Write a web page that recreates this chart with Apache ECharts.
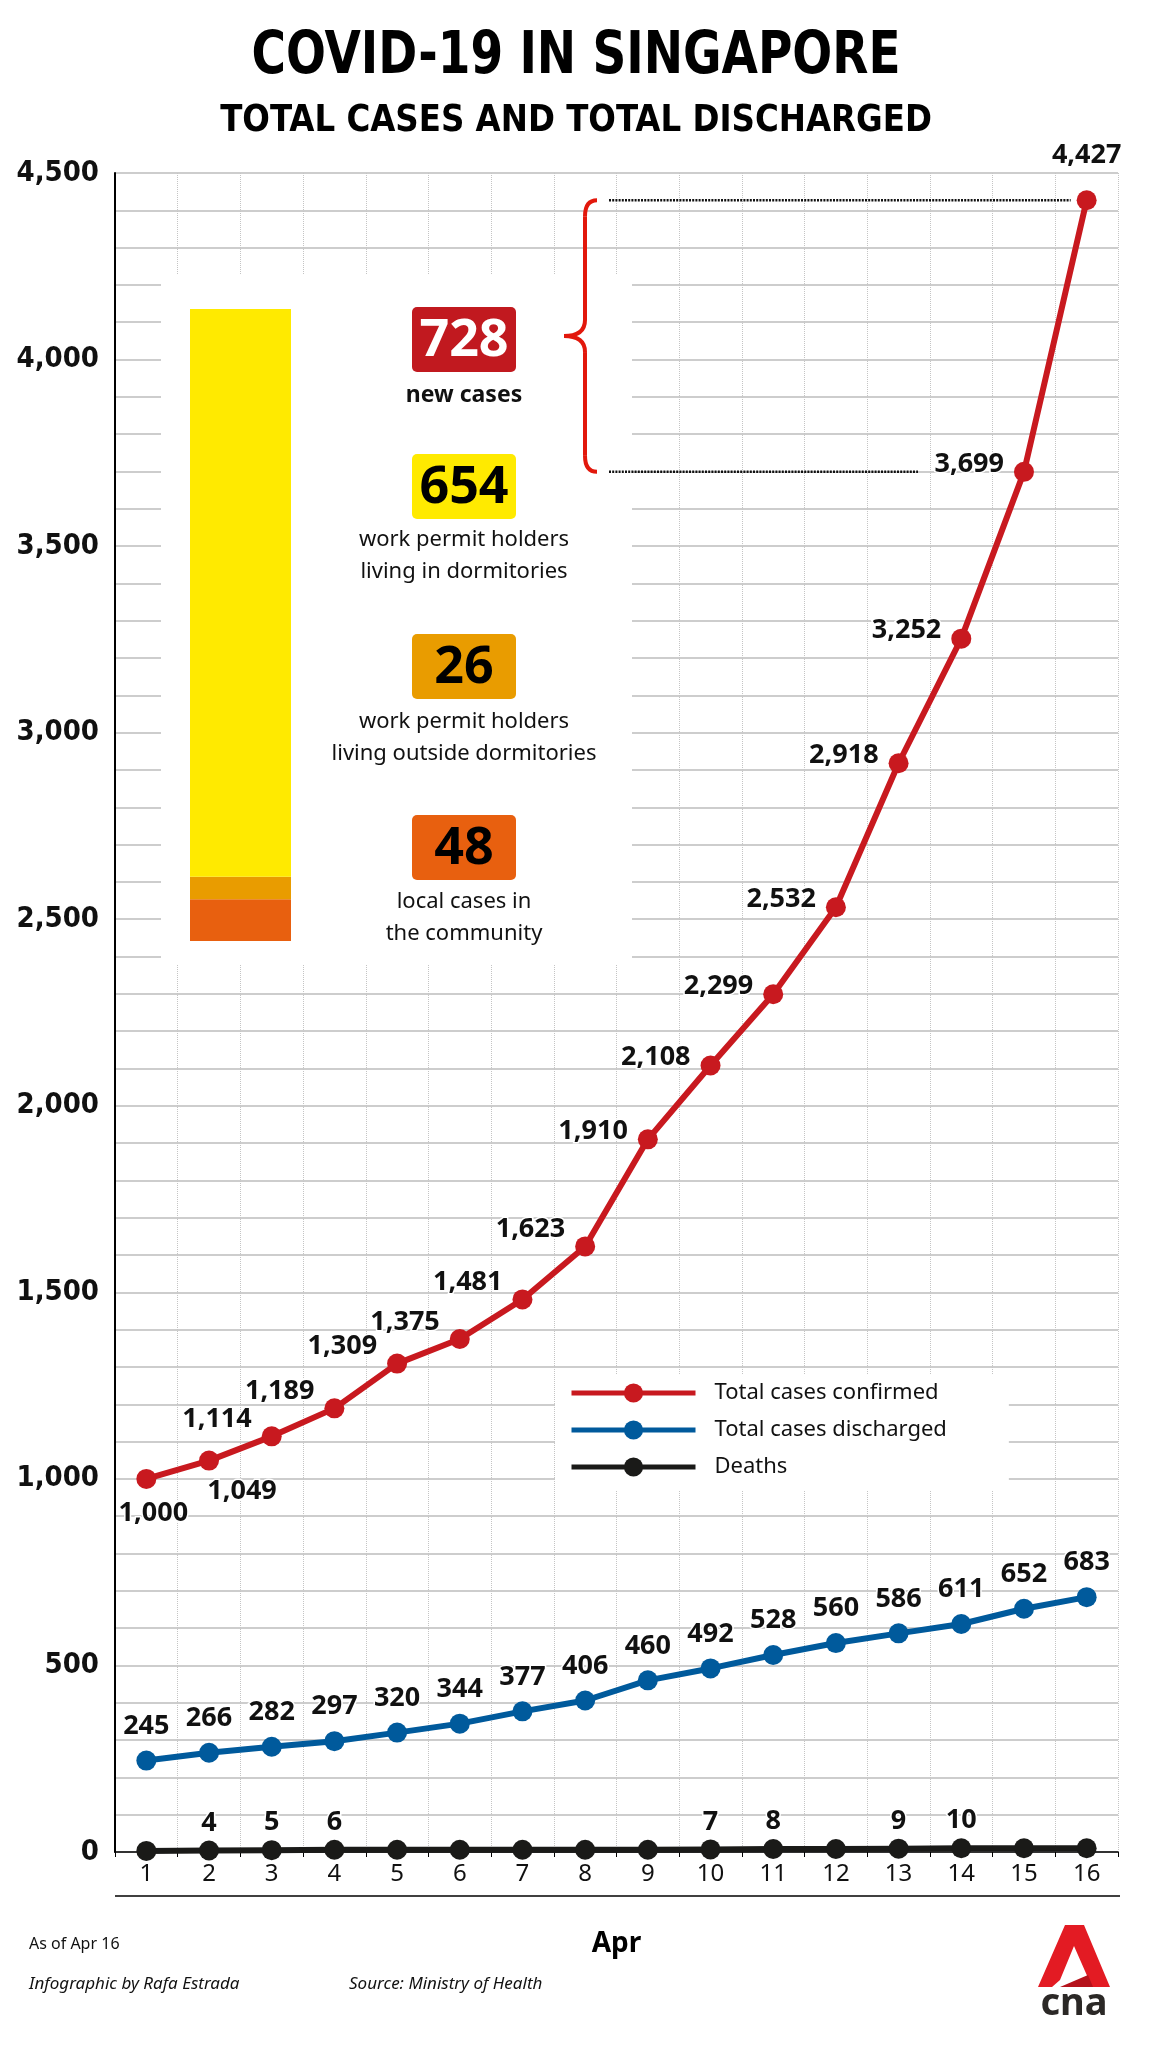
<!DOCTYPE html>
<html>
<head>
<meta charset="utf-8">
<title>COVID-19 in Singapore</title>
<script src="https://cdn.jsdelivr.net/npm/echarts@6.0.0/dist/echarts.min.js"></script>
<style>
  html, body { margin: 0; padding: 0; background: #fff; }
  #main { width: 1152px; height: 2048px; }
</style>
</head>
<body>
<div id="main"></div>
<script>
// data, Apr 1 - Apr 16
var days = ['1','2','3','4','5','6','7','8','9','10','11','12','13','14','15','16'];
var confirmed = [1000, 1049, 1114, 1189, 1309, 1375, 1481, 1623, 1910, 2108, 2299, 2532, 2918, 3252, 3699, 4427];
var discharged = [245, 266, 282, 297, 320, 344, 377, 406, 460, 492, 528, 560, 586, 611, 652, 683];
var deaths = [3, 4, 5, 6, 6, 6, 6, 6, 6, 7, 8, 8, 9, 10, 10, 10];

// breakdown of the new cases on Apr 16 (top of the stack first)
var newGroups = ['work permit holders\nliving in dormitories', 'work permit holders\nliving outside dormitories', 'local cases in\nthe community'];
var newValues = [654, 26, 48];

var yMin = 0, yMax = 4500, yStep = 100, yLabelStep = 500;

var RED = '#c8191f', BLUE = '#005a9c', BLACK = '#1a1a18';
var groupColors = ['#ffea00', '#e99c00', '#e8600f'];
var SANS = "'Noto Sans', 'Open Sans', sans-serif";
var COND = "'DejaVu Sans Condensed', 'Liberation Sans Narrow', sans-serif";

var newTotal = newValues.reduce(function (a, b) { return a + b; }, 0);

function fmt(v) { return v.toLocaleString('en-US'); }

var labelBase = {
    show: true,
    fontFamily: SANS,
    fontWeight: 'bold',
    fontSize: 27,
    color: '#111',
    textBorderColor: '#fff',
    textBorderWidth: 3
};

var confirmedData = confirmed.map(function (v, i) {
    var item = { value: v };
    if (i === 0) item.label = { position: 'bottom', distance: 11, offset: [7, 0] };
    else if (i === 1) item.label = { position: 'bottom', distance: 7, offset: [33, 0] };
    else if (i === confirmed.length - 1) item.label = { position: 'top', distance: 21, offset: [0, 0] };
    else item.label = { position: 'left', distance: 10, offset: [0, i < 8 ? -17 : -8] };
    return item;
});

var insetSeries = [];
for (var k = newValues.length - 1; k >= 0; k--) {
    insetSeries.push({
        name: newGroups[k],
        type: 'bar',
        xAxisIndex: 1,
        yAxisIndex: 1,
        stack: 'new',
        barWidth: '100%',
        silent: true,
        z: 3,
        itemStyle: { color: groupColors[k] },
        data: [newValues[k]]
    });
}

var option = {
    animation: false,
    backgroundColor: '#fff',
    legend: {
        orient: 'vertical',
        left: 555,
        top: 1374,
        backgroundColor: '#fff',
        padding: [8, 62, 12, 14],
        itemWidth: 124,
        itemHeight: 24,
        itemGap: 15,
        selectedMode: false,
        lineStyle: { width: 5 },
        textStyle: { fontFamily: SANS, fontSize: 22, color: '#111', padding: [0, 0, 0, 14] },
        data: ['Total cases confirmed', 'Total cases discharged', 'Deaths']
    },
    grid: [
        { left: 115, top: 173, width: 1003, height: 1679 },
        { left: 190, top: 309, width: 101, height: 632 }
    ],
    xAxis: [
        {
            type: 'category',
            data: days,
            boundaryGap: true,
            axisLine: { lineStyle: { color: '#000', width: 1.5 } },
            axisTick: { show: true, length: 5, lineStyle: { color: '#000' } },
            axisLabel: { fontFamily: SANS, fontSize: 24, color: '#111', margin: 10 },
            splitLine: { show: true, interval: 0, lineStyle: { color: '#c4c4c4', type: 'dotted', width: 1 } },
            name: 'Apr',
            nameLocation: 'middle',
            nameGap: 78,
            nameTextStyle: { fontFamily: SANS, fontWeight: 'bold', fontSize: 28, color: '#000' }
        },
        { type: 'category', gridIndex: 1, data: ['Apr 16'], show: false }
    ],
    yAxis: [
        {
            type: 'value',
            min: yMin,
            max: yMax,
            interval: yStep,
            axisLine: { show: true, lineStyle: { color: '#000', width: 2 } },
            axisTick: { show: false },
            axisLabel: {
                margin: 16,
                fontFamily: COND,
                fontWeight: 'bold',
                fontSize: 29,
                color: '#111',
                formatter: function (v) { return v % yLabelStep === 0 ? fmt(v) : ''; }
            },
            splitLine: { lineStyle: { color: '#cdcdcd', width: 2 } }
        },
        { type: 'value', gridIndex: 1, min: 0, max: newTotal, show: false, splitLine: { show: false } }
    ],
    series: [
        {
            name: 'Total cases discharged',
            type: 'line',
            data: discharged,
            symbol: 'circle',
            symbolSize: 20,
            showAllSymbol: true,
            z: 3,
            lineStyle: { color: BLUE, width: 6 },
            itemStyle: { color: BLUE },
            label: Object.assign({}, labelBase, { position: 'top', distance: 11 })
        },
        {
            name: 'Deaths',
            type: 'line',
            data: deaths,
            symbol: 'circle',
            symbolSize: 20,
            showAllSymbol: true,
            z: 3,
            lineStyle: { color: BLACK, width: 6 },
            itemStyle: { color: BLACK },
            label: Object.assign({}, labelBase, {
                position: 'top',
                distance: 4,
                formatter: function (p) {
                    var i = p.dataIndex;
                    return (i > 0 && deaths[i] !== deaths[i - 1]) ? String(deaths[i]) : '';
                }
            })
        },
        {
            name: 'Total cases confirmed',
            type: 'line',
            data: confirmedData,
            symbol: 'circle',
            symbolSize: 20,
            showAllSymbol: true,
            z: 4,
            lineStyle: { color: RED, width: 6 },
            itemStyle: { color: RED },
            label: Object.assign({}, labelBase, { formatter: function (p) { return fmt(p.value); } })
        }
    ].concat(insetSeries)
};

var chart = echarts.init(document.getElementById('main'));
chart.setOption(option);

// overlay pieces placed from the chart's own scales
var last = confirmed.length - 1;
var yTop = chart.convertToPixel({ yAxisIndex: 0 }, confirmed[last]);
var yBot = chart.convertToPixel({ yAxisIndex: 0 }, confirmed[last - 1]);
var xLast = chart.convertToPixel({ xAxisIndex: 0 }, last);
var xPrev = chart.convertToPixel({ xAxisIndex: 0 }, last - 1);
var yMid = (yTop + yBot) / 2;

var braceX = 585, braceEnd = 597, braceTip = 564, c = 16;
var braceStyle = { stroke: '#e2180c', lineWidth: 4, fill: null };
var dotStyle = { stroke: '#111', lineWidth: 2.5, lineDash: [2, 1.2] };

function centred(text, x, y, size, extra) {
    var style = { text: text, x: 0, y: 0, fill: '#111', fontFamily: SANS, fontSize: size,
        align: 'center', textAlign: 'center', verticalAlign: 'middle', textVerticalAlign: 'middle' };
    return Object.assign({ type: 'text', z: 6, x: x, y: y, style: style }, extra || {});
}

var graphics = [
    // titles (squeezed a little to match the condensed face)
    centred('COVID-19 IN SINGAPORE', 576, 58, 58, { scaleX: 0.9 }),
    centred('TOTAL CASES AND TOTAL DISCHARGED', 576, 121, 38, { scaleX: 0.95 }),
    // white panel behind the breakdown
    { type: 'rect', z: 1, shape: { x: 161, y: 275, width: 471, height: 690 }, style: { fill: '#fff' } },
    // brace
    { type: 'bezierCurve', z: 5, shape: { x1: braceEnd, y1: yTop, cpx1: braceX, cpy1: yTop, x2: braceX, y2: yTop + c }, style: braceStyle },
    { type: 'line', z: 5, shape: { x1: braceX, y1: yTop + c, x2: braceX, y2: yMid - c }, style: braceStyle },
    { type: 'bezierCurve', z: 5, shape: { x1: braceX, y1: yMid - c, cpx1: braceX, cpy1: yMid, x2: braceTip, y2: yMid }, style: braceStyle },
    { type: 'bezierCurve', z: 5, shape: { x1: braceTip, y1: yMid, cpx1: braceX, cpy1: yMid, x2: braceX, y2: yMid + c }, style: braceStyle },
    { type: 'line', z: 5, shape: { x1: braceX, y1: yMid + c, x2: braceX, y2: yBot - c }, style: braceStyle },
    { type: 'bezierCurve', z: 5, shape: { x1: braceX, y1: yBot - c, cpx1: braceX, cpy1: yBot, x2: braceEnd, y2: yBot }, style: braceStyle },
    // dotted guides
    { type: 'line', z: 5, shape: { x1: 609, y1: yTop, x2: xLast - 16, y2: yTop }, style: dotStyle },
    { type: 'line', z: 5, shape: { x1: 609, y1: yBot, x2: xPrev - 106, y2: yBot }, style: dotStyle },
    // rule under the day labels
    { type: 'line', z: 5, shape: { x1: 115, y1: 1896, x2: 1120, y2: 1896 }, style: { stroke: '#000', lineWidth: 1.5 } },
    // footer
    { type: 'text', z: 5, style: { text: 'As of Apr 16', x: 29, y: 1944, fill: '#111', fontFamily: SANS, fontSize: 16, verticalAlign: 'middle', textVerticalAlign: 'middle' } },
    { type: 'text', z: 5, style: { text: 'Infographic by Rafa Estrada', x: 29, y: 1984, fill: '#111', fontFamily: SANS, fontSize: 17, fontStyle: 'italic', verticalAlign: 'middle', textVerticalAlign: 'middle' } },
    { type: 'text', z: 5, style: { text: 'Source: Ministry of Health', x: 349, y: 1984, fill: '#111', fontFamily: SANS, fontSize: 17, fontStyle: 'italic', verticalAlign: 'middle', textVerticalAlign: 'middle' } },
    // cna logo
    { type: 'polygon', z: 5, shape: { points: [[1038, 1987], [1065, 1925], [1084, 1925], [1110, 1987], [1092, 1987], [1074, 1946], [1060, 1980], [1052, 1987]] }, style: { fill: '#e31b23' } },
    { type: 'polygon', z: 5, shape: { points: [[1060, 1987], [1088, 1975], [1093, 1987]] }, style: { fill: '#b5121b' } },
    centred('cna', 1074, 2004, 38, {})
];
graphics[graphics.length - 1].style.fontWeight = 'bold';
graphics[graphics.length - 1].style.fill = '#2b2826';
graphics[0].style.fontFamily = COND;
graphics[0].style.fontWeight = 'bold';
graphics[0].style.fill = '#000';
graphics[1].style.fontFamily = COND;
graphics[1].style.fontWeight = 'bold';
graphics[1].style.fill = '#000';

// badges: total first, then each group
var badgeCx = 464, badgeW = 104, badgeH = 65;
var badges = [
    { num: newTotal, fill: '#c1191f', color: '#fff', top: 307, text: 'new cases', bold: true, textY: 395 },
    { num: newValues[0], fill: groupColors[0], color: '#000', top: 454, text: newGroups[0], textY: 556 },
    { num: newValues[1], fill: groupColors[1], color: '#000', top: 634, text: newGroups[1], textY: 738 },
    { num: newValues[2], fill: groupColors[2], color: '#000', top: 815, text: newGroups[2], textY: 918 }
];
badges.forEach(function (b) {
    graphics.push({ type: 'rect', z: 5, shape: { x: badgeCx - badgeW / 2, y: b.top, width: badgeW, height: badgeH, r: 5 }, style: { fill: b.fill } });
    graphics.push({ type: 'text', z: 6, style: { text: String(b.num), x: badgeCx, y: b.top + badgeH / 2 + 2, fill: b.color, fontFamily: SANS, fontWeight: 'bold', fontSize: 52, align: 'center', textAlign: 'center', verticalAlign: 'middle', textVerticalAlign: 'middle' } });
    graphics.push({ type: 'text', z: 6, style: { text: b.text, x: badgeCx, y: b.textY, fill: '#111', fontFamily: SANS, fontWeight: b.bold ? 'bold' : 'normal', fontSize: b.bold ? 23 : 22, lineHeight: 32, align: 'center', textAlign: 'center', verticalAlign: 'middle', textVerticalAlign: 'middle' } });
});

chart.setOption({ graphic: graphics });
</script>
</body>
</html>
